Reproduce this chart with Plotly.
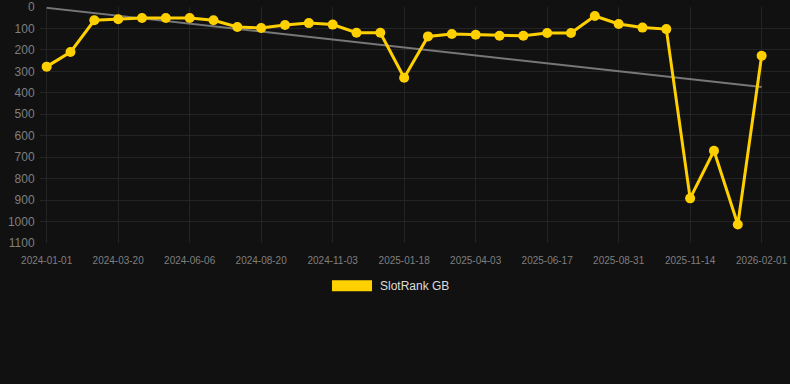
import numpy as np
import plotly.graph_objects as go

dates = [
    "2024-01-01", "2024-01-27", "2024-02-22", "2024-03-20", "2024-04-15",
    "2024-05-11", "2024-06-06", "2024-07-01", "2024-07-26", "2024-08-20",
    "2024-09-14", "2024-10-09", "2024-11-03", "2024-11-28", "2024-12-24",
    "2025-01-18", "2025-02-12", "2025-03-09", "2025-04-03", "2025-04-28",
    "2025-05-23", "2025-06-17", "2025-07-12", "2025-08-06", "2025-08-31",
    "2025-09-25", "2025-10-20", "2025-11-14", "2025-12-10", "2026-01-06",
    "2026-02-01",
]
ranks = [
    278, 210, 62, 57, 51, 51, 51, 62, 93, 98,
    84, 75, 82, 120, 120, 330, 137, 126, 129, 134,
    134, 121, 121, 42, 79, 96, 103, 892, 670, 1014,
    227,
]
series_name = "SlotRank GB"
x_ticks = [
    "2024-01-01", "2024-03-20", "2024-06-06", "2024-08-20", "2024-11-03",
    "2025-01-18", "2025-04-03", "2025-06-17", "2025-08-31", "2025-11-14",
    "2026-02-01",
]
y_ticks = [0, 100, 200, 300, 400, 500, 600, 700, 800, 900, 1000, 1100]

# linear trend of the rank series
idx = np.arange(len(ranks))
slope, intercept = np.polyfit(idx, ranks, 1)
trend = [intercept, intercept + slope * (len(ranks) - 1)]

BG = "#111111"
GRID = "#242424"
TICK = "#7f7f7f"
YELLOW = "#FFD000"

fig = go.Figure()
fig.add_trace(go.Scatter(
    x=[dates[0], dates[-1]], y=trend, mode="lines",
    line=dict(color="#777777", width=2), showlegend=False, hoverinfo="skip",
))
fig.add_trace(go.Scatter(
    x=dates, y=ranks, mode="lines+markers", name=series_name,
    line=dict(color=YELLOW, width=3),
    marker=dict(color=YELLOW, size=10),
    showlegend=False,
))

fig.update_layout(
    width=790, height=384,
    margin=dict(l=40, r=0, t=7, b=141),
    paper_bgcolor=BG, plot_bgcolor=BG,
    font=dict(family="Liberation Sans, Arial, sans-serif", color=TICK),
    showlegend=False,
    xaxis=dict(
        type="category",
        categoryorder="array", categoryarray=dates,
        range=[-0.28, len(dates) - 1 + 1.19],
        tickvals=x_ticks, ticktext=x_ticks,
        showgrid=True, gridcolor=GRID, gridwidth=1,
        zeroline=False, showline=False,
        tickfont=dict(size=10, color=TICK),
        ticks="outside", ticklen=8, tickcolor=BG,
        automargin=False,
    ),
    yaxis=dict(
        range=[1100, 0],
        tickvals=y_ticks,
        showgrid=True, gridcolor=GRID, gridwidth=1,
        zeroline=False, showline=False,
        tickfont=dict(size=12, color=TICK),
        ticks="outside", ticklen=2, tickcolor=BG,
        automargin=False,
    ),
    shapes=[dict(
        type="rect", xref="paper", yref="paper",
        x0=0.3893, x1=0.4427, y0=-0.2043, y1=-0.1574,
        fillcolor=YELLOW, line=dict(width=0),
    )],
    annotations=[dict(
        text=series_name, xref="paper", yref="paper",
        x=0.4507, y=-0.183, xanchor="left", yanchor="middle",
        showarrow=False, font=dict(size=12, color="#dddddd"),
    )],
)

fig.write_html(
    "out.html",
    config={"displayModeBar": False},
    post_script="document.body.style.margin='0';document.body.style.overflow='hidden';",
)
